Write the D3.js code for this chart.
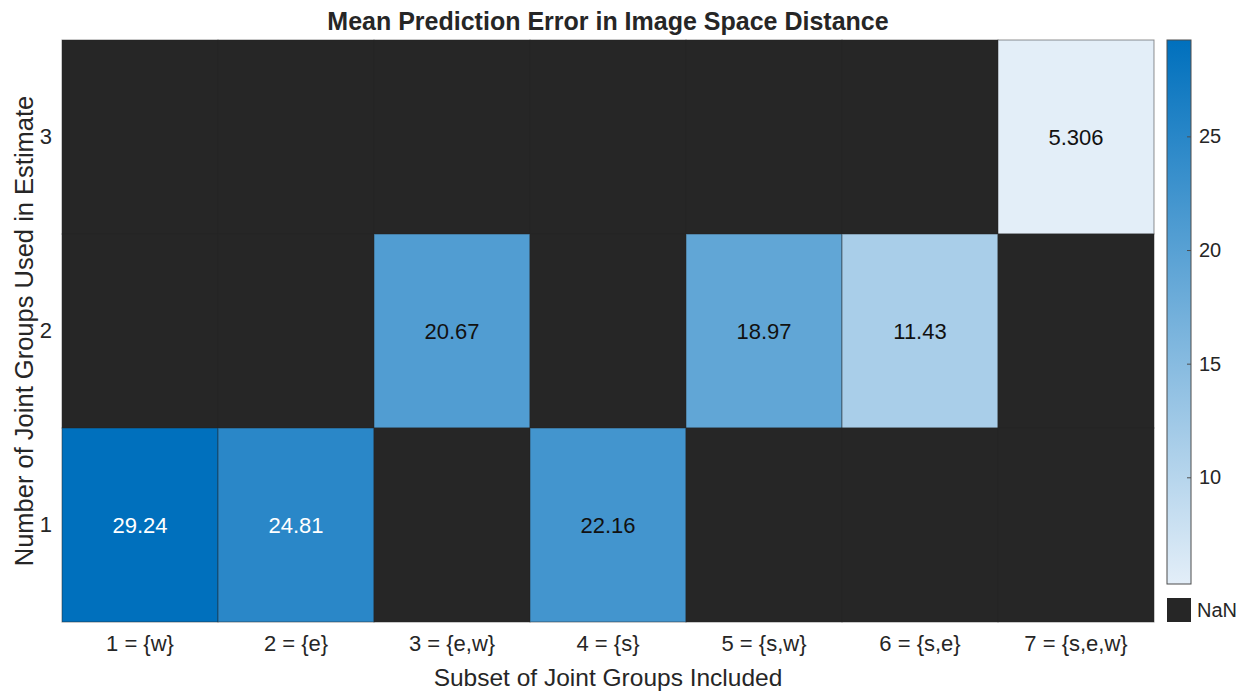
<!DOCTYPE html>
<html>
<head>
<meta charset="utf-8">
<script src="https://cdn.jsdelivr.net/npm/d3@7"></script>
<style>
  html, body { margin: 0; padding: 0; background: #fff; }
  svg { display: block; font-family: "Liberation Sans", Arial, Helvetica, sans-serif; }
</style>
</head>
<body>
<svg id="chart" width="1248" height="692"></svg>
<script>
// Column categories (subset of joint groups) and row categories (count of groups)
const subsets = ["1 = {w}", "2 = {e}", "3 = {e,w}", "4 = {s}", "5 = {s,w}", "6 = {s,e}", "7 = {s,e,w}"];
const groupCounts = ["3", "2", "1"];

// Mean prediction error per row; null marks a missing (NaN) cell
const errorsOneGroup    = [29.24, 24.81, null, 22.16, null, null, null];
const errorsTwoGroups   = [null, null, 20.67, null, 18.97, 11.43, null];
const errorsThreeGroups = [null, null, null, null, null, null, 5.306];

const colorbarTicks = [10, 15, 20, 25];

const rows = [
  { key: "3", values: errorsThreeGroups },
  { key: "2", values: errorsTwoGroups },
  { key: "1", values: errorsOneGroup }
];

const cells = [];
rows.forEach(r => r.values.forEach((v, i) => cells.push({ row: r.key, col: subsets[i], value: v })));

const svg = d3.select("#chart");
const plot = { left: 62, right: 1154, top: 40, bottom: 622 };
const textColor = "#262626";
const font = "Liberation Sans, Arial, sans-serif";

const x = d3.scaleBand().domain(subsets).range([plot.left, plot.right]).padding(0);
const y = d3.scaleBand().domain(groupCounts).range([plot.top, plot.bottom]).padding(0);

const allVals = cells.filter(d => d.value !== null).map(d => d.value);
const vmin = d3.min(allVals), vmax = d3.max(allVals);
const color = d3.scaleLinear().domain([vmin, vmax])
  .range(["#e3eef8", "#0070bd"]).interpolate(d3.interpolateRgb);
const nanColor = "#262626";

// Cells, with a half-transparent dark grid edge
svg.append("g").selectAll("rect").data(cells).join("rect")
  .attr("x", d => x(d.col))
  .attr("y", d => y(d.row))
  .attr("width", x.bandwidth())
  .attr("height", y.bandwidth())
  .attr("fill", d => d.value === null ? nanColor : color(d.value))
  .attr("stroke", "rgba(38,38,38,0.5)")
  .attr("stroke-width", 1);

// Cell values
const fmt = v => v < 10 ? v.toFixed(3) : v.toFixed(2);
svg.append("g").selectAll("text").data(cells.filter(d => d.value !== null)).join("text")
  .attr("x", d => x(d.col) + x.bandwidth() / 2)
  .attr("y", d => y(d.row) + y.bandwidth() / 2)
  .attr("text-anchor", "middle")
  .attr("dominant-baseline", "central")
  .attr("font-size", 22)
  .attr("fill", d => d.value > 23.5 ? "#ffffff" : "#111111")
  .text(d => fmt(d.value));

// Axes
const xAxis = svg.append("g").attr("transform", `translate(0,${plot.bottom})`)
  .call(d3.axisBottom(x).tickSize(0).tickPadding(13));
xAxis.select(".domain").remove();
xAxis.selectAll("text").attr("font-size", 22).attr("fill", textColor).attr("font-family", font);

const yAxis = svg.append("g").attr("transform", `translate(${plot.left},0)`)
  .call(d3.axisLeft(y).tickSize(0).tickPadding(10));
yAxis.select(".domain").remove();
yAxis.selectAll("text").attr("font-size", 22).attr("fill", textColor).attr("font-family", font);

// Titles
svg.append("text")
  .attr("x", (plot.left + plot.right) / 2).attr("y", 30)
  .attr("text-anchor", "middle").attr("font-size", 25).attr("font-weight", "bold")
  .attr("fill", textColor).text("Mean Prediction Error in Image Space Distance");

svg.append("text")
  .attr("x", (plot.left + plot.right) / 2).attr("y", 686)
  .attr("text-anchor", "middle").attr("font-size", 24.5)
  .attr("fill", textColor).text("Subset of Joint Groups Included");

svg.append("text")
  .attr("transform", `translate(33,${(plot.top + plot.bottom) / 2}) rotate(-90)`)
  .attr("text-anchor", "middle").attr("font-size", 25.5)
  .attr("fill", textColor).text("Number of Joint Groups Used in Estimate");

// Colorbar
const cb = { x: 1167, w: 24, top: 40, bottom: 584 };
const cbScale = d3.scaleLinear().domain([vmin, vmax]).range([cb.bottom, cb.top]);
const defs = svg.append("defs");
const grad = defs.append("linearGradient").attr("id", "cbgrad")
  .attr("x1", 0).attr("y1", 1).attr("x2", 0).attr("y2", 0);
grad.append("stop").attr("offset", "0%").attr("stop-color", color(vmin));
grad.append("stop").attr("offset", "100%").attr("stop-color", color(vmax));

svg.append("rect")
  .attr("x", cb.x).attr("y", cb.top).attr("width", cb.w).attr("height", cb.bottom - cb.top)
  .attr("fill", "url(#cbgrad)").attr("stroke", "#4d4d4d").attr("stroke-width", 1);

const cbAxis = svg.append("g").attr("transform", `translate(${cb.x + cb.w},0)`)
  .call(d3.axisRight(cbScale).tickValues(colorbarTicks).tickSize(-4).tickPadding(8));
cbAxis.select(".domain").remove();
cbAxis.selectAll("line").attr("stroke", "#4d4d4d");
cbAxis.selectAll("text").attr("font-size", 20).attr("fill", textColor).attr("font-family", font);

// NaN swatch
svg.append("rect")
  .attr("x", cb.x).attr("y", 598).attr("width", cb.w).attr("height", 24)
  .attr("fill", nanColor);
svg.append("text")
  .attr("x", cb.x + cb.w + 6).attr("y", 610)
  .attr("dominant-baseline", "central").attr("font-size", 20)
  .attr("fill", textColor).text("NaN");
</script>
</body>
</html>
